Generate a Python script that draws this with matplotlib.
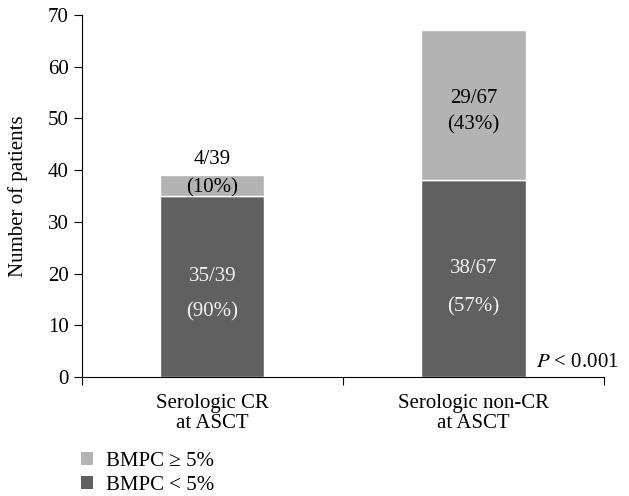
import matplotlib.pyplot as plt
from matplotlib.patches import Patch

plt.rcParams['font.family'] = ['Liberation Serif', 'DejaVu Serif']

groups = ['Serologic CR\nat ASCT', 'Serologic non-CR\nat ASCT']
low = [35, 38]      # BMPC < 5%
high = [4, 29]      # BMPC >= 5%
totals = [39, 67]
low_pct = [90, 57]
high_pct = [10, 43]

dark = '#606060'
light = '#b3b3b3'

fig = plt.figure(figsize=(6.29, 4.96), dpi=100)
ax = fig.add_axes([0.130, 0.240, 0.830, 0.730])

pos = [0.5, 1.5]
ax.bar(pos, low, width=0.4, color=dark, edgecolor='white', linewidth=1)
ax.bar(pos, high, width=0.4, bottom=low, color=light, edgecolor='white', linewidth=1)

fs = 15
# counts inside the dark segments
for x, n, t, p in zip(pos, low, totals, low_pct):
    ax.text(x, n * 0.57 - 0.6, f'{n}/{t}', ha='center', va='center', color='#f2f2f2', fontsize=fs)
    ax.text(x, n * 0.38 - 0.8, f'({p}%)', ha='center', va='center', color='#f2f2f2', fontsize=fs)

# first group: small segment, count sits above the bar
ax.text(pos[0], low[0] + high[0] + 3.1, f'{high[0]}/{totals[0]}', ha='center', va='center', fontsize=fs)
ax.text(pos[0], low[0] + high[0] / 2 - 0.5, f'({high_pct[0]}%)', ha='center', va='center', fontsize=fs)
# second group: count inside the light segment
ax.text(pos[1], low[1] + high[1] * 0.57 - 0.6, f'{high[1]}/{totals[1]}', ha='center', va='center', fontsize=fs)
ax.text(pos[1], low[1] + high[1] * 0.39 - 0.6, f'({high_pct[1]}%)', ha='center', va='center', fontsize=fs)

ax.text(2.055, 1.0, r'$P$ < 0.001', ha='right', va='bottom', fontsize=fs,
        math_fontfamily='stix')

ax.set_xlim(0, 2)
ax.set_ylim(0, 70)
ax.set_yticks(range(0, 71, 10))
ax.set_xticks([0, 1, 2])
ax.set_xticklabels([])
ax.set_xticks(pos, minor=True)
ax.set_xticklabels(groups, minor=True, fontsize=fs, linespacing=1.1)
ax.tick_params(axis='x', which='minor', length=0, pad=12)
ax.tick_params(axis='x', which='major', direction='out', length=6)
ax.tick_params(axis='y', labelsize=fs, length=6)
ax.set_ylabel('Number of patients', fontsize=fs, labelpad=14)
for s in ['top', 'right']:
    ax.spines[s].set_visible(False)

handles = [Patch(facecolor=light, label='BMPC ≥ 5%'),
           Patch(facecolor=dark, label='BMPC < 5%')]
fig.legend(handles=handles, loc='upper left', bbox_to_anchor=(0.115, 0.106),
           frameon=False, fontsize=fs, handlelength=0.6, handleheight=0.6,
           handletextpad=0.6, labelspacing=0.25, borderaxespad=0)

fig.savefig('out.png', dpi=100)
